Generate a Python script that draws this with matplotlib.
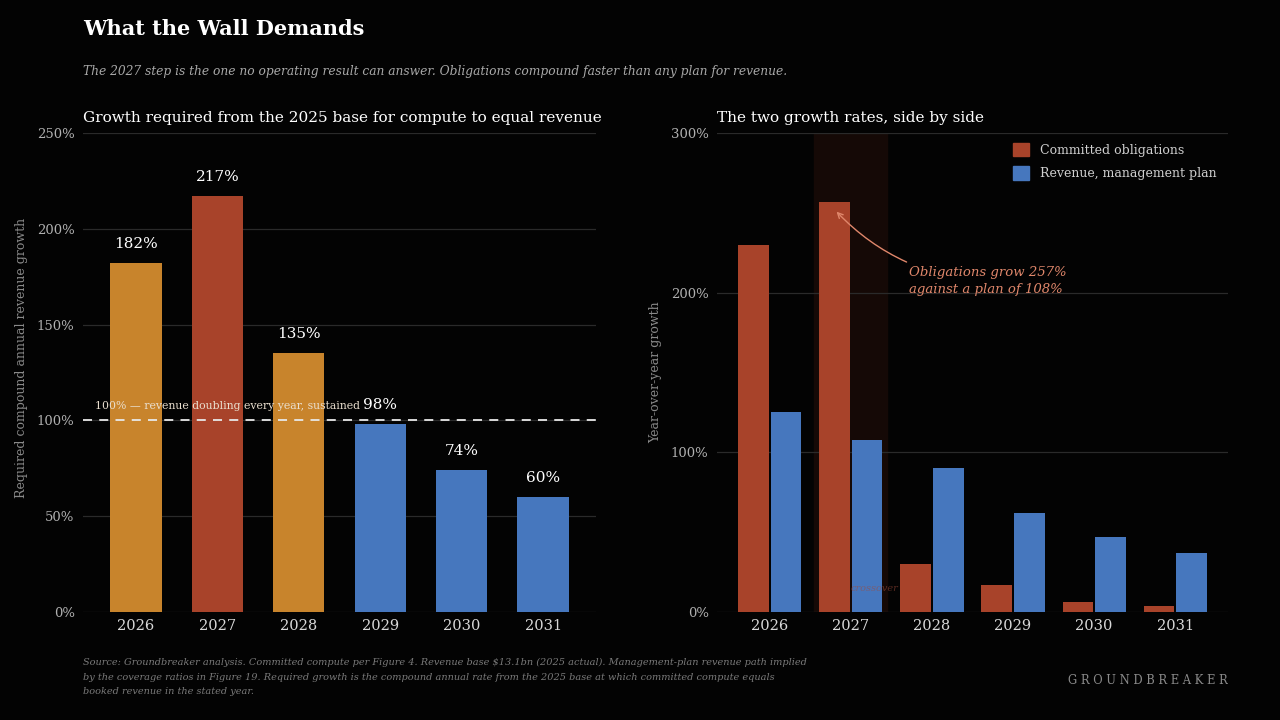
import numpy as np
import matplotlib
matplotlib.use("Agg")
import matplotlib.pyplot as plt
from matplotlib.patches import Patch

# data
years = ["2026", "2027", "2028", "2029", "2030", "2031"]
required_growth = [182, 217, 135, 98, 74, 60]          # % CAGR from 2025 base
obligations_growth = [230, 257, 30, 17, 6, 4]          # % YoY, committed compute
revenue_plan_growth = [125, 108, 90, 62, 47, 37]       # % YoY, management plan

BG = "#030303"
ORANGE = "#C8842C"
RED = "#A8432A"
BLUE = "#4677BE"
GRID = "#2a2a2a"
TICK = "#b0b0b0"
MUTED = "#8a8a8a"
SALMON = "#E0876B"

plt.rcParams["font.family"] = ["DejaVu Serif"]

fig = plt.figure(figsize=(12.8, 7.2), dpi=100, facecolor=BG)

fig.text(83/1280, 1-29/720, "What the Wall Demands", color="white",
         fontsize=15, fontweight="bold", va="center", ha="left")
fig.text(83/1280, 1-71/720,
         "The 2027 step is the one no operating result can answer. "
         "Obligations compound faster than any plan for revenue.",
         color="#a8a8a8", fontsize=8.8, style="italic", va="center", ha="left")


def style_axes(ax, ymax, step):
    ax.set_facecolor(BG)
    for s in ax.spines.values():
        s.set_visible(False)
    ax.set_ylim(0, ymax)
    ax.set_xlim(-0.65, 5.65)
    ax.set_yticks(np.arange(0, ymax + 1, step))
    ax.set_yticklabels([f"{v}%" for v in np.arange(0, ymax + 1, step)])
    ax.set_xticks(range(len(years)))
    ax.set_xticklabels(years)
    ax.tick_params(axis="y", length=0, colors=TICK, labelsize=9.5, pad=6)
    ax.tick_params(axis="x", length=0, colors="#d8d8d8", labelsize=10.5, pad=5)
    ax.grid(axis="y", color=GRID, lw=0.9)
    ax.set_axisbelow(True)


# ---- left panel: required growth ----
axL = fig.add_axes([83/1280, 1-612/720, (596-83)/1280, (612-133)/720])
style_axes(axL, 250, 50)
top = max(required_growth)
colors = [RED if v == top else (ORANGE if v > 100 else BLUE) for v in required_growth]
x = np.arange(len(years))
axL.bar(x, required_growth, width=0.63, color=colors, zorder=2)
for xi, v in zip(x, required_growth):
    axL.annotate(f"{v}%", (xi, v), xytext=(0, 9), textcoords="offset points",
                 ha="center", va="bottom", color="white", fontsize=11)
axL.axhline(100, color="#e8e8e8", ls=(0, (5, 4)), lw=1.3, zorder=3)
axL.text(-0.5, 105, "100% \u2014 revenue doubling every year, sustained",
         color="#eadfcf", fontsize=7.8, ha="left", va="bottom", zorder=4)
axL.set_ylabel("Required compound annual revenue growth", color=MUTED,
               fontsize=9, labelpad=8)
axL.yaxis.set_label_coords(-0.108, 0.53)
fig.text(83/1280, 1-118/720,
         "Growth required from the 2025 base for compute to equal revenue",
         color="white", fontsize=11, va="center")

# ---- right panel: side by side ----
axR = fig.add_axes([717/1280, 1-612/720, (1228-717)/1280, (612-133)/720])
style_axes(axR, 300, 100)
axR.axvspan(0.55, 1.45, color="#150906", zorder=0.5)
w = 0.38
axR.bar(x - 0.2, obligations_growth, width=w, color=RED, zorder=2)
axR.bar(x + 0.2, revenue_plan_growth, width=w, color=BLUE, zorder=2)
axR.text(1.0, 15, "crossover", color="#a04a3a", alpha=0.55, fontsize=7,
         style="italic", ha="left", va="center", zorder=3)
axR.annotate("Obligations grow 257%\nagainst a plan of 108%",
             xy=(0.8, obligations_growth[1] - 5), xytext=(1.72, 207),
             color=SALMON, fontsize=9.5, style="italic", ha="left",
             va="center", linespacing=1.4,
             arrowprops=dict(arrowstyle="->", color=SALMON, lw=1.0,
                             connectionstyle="arc3,rad=-0.2",
                             shrinkA=3, shrinkB=2))
axR.set_ylabel("Year-over-year growth", color=MUTED, fontsize=9, labelpad=6)
axR.legend(handles=[Patch(color=RED, label="Committed obligations"),
                    Patch(color=BLUE, label="Revenue, management plan")],
           loc="upper right", frameon=False, fontsize=9,
           labelcolor="#cfcfcf", handlelength=1.3, handleheight=1.3,
           handletextpad=0.9, labelspacing=0.75,
           bbox_to_anchor=(1.0, 1.003))
fig.text(717/1280, 1-118/720, "The two growth rates, side by side",
         color="white", fontsize=11, va="center")

# ---- footer ----
fig.text(83/1280, 1-677/720,
         "Source: Groundbreaker analysis. Committed compute per Figure 4. "
         "Revenue base $13.1bn (2025 actual). Management-plan revenue path implied\n"
         "by the coverage ratios in Figure 19. Required growth is the compound "
         "annual rate from the 2025 base at which committed compute equals\n"
         "booked revenue in the stated year.",
         color="#7a7a7a", fontsize=7.0, style="italic", va="center",
         linespacing=1.75)
fig.text(1228/1280, 1-681/720, "G R O U N D B R E A K E R", color="#8a8a8a",
         fontsize=8.3, ha="right", va="center")

fig.savefig("out.png", dpi=100, facecolor=BG)
